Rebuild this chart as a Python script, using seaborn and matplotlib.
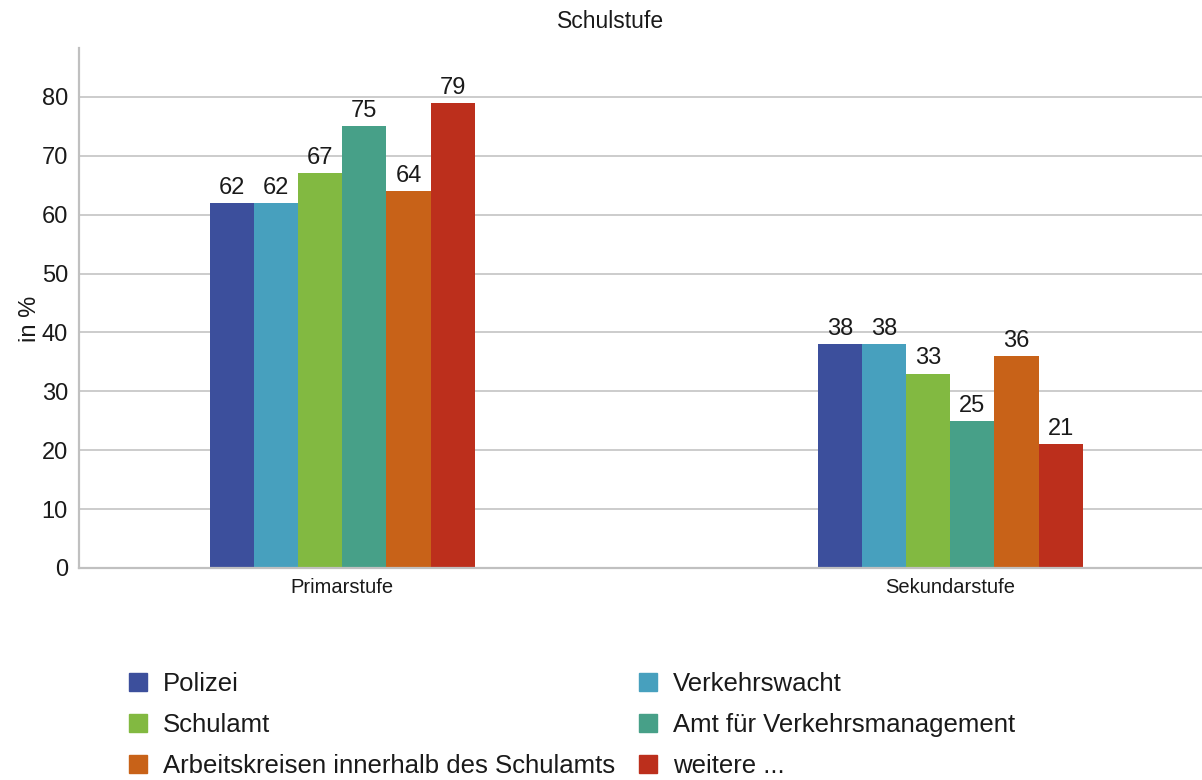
import pandas as pd
import numpy as np
import matplotlib
matplotlib.use('Agg')
import matplotlib.pyplot as plt
import seaborn as sns

# data
stufen = ['Primarstufe', 'Sekundarstufe']
akteure = ['Polizei', 'Verkehrswacht', 'Schulamt', 'Amt für Verkehrsmanagement',
           'Arbeitskreisen innerhalb des Schulamts', 'weitere ...']
primar = [62, 62, 67, 75, 64, 79]
sekundar = [38, 38, 33, 25, 36, 21]
farben = ['#3c4f9c', '#47a0be', '#82b941', '#47a088', '#c86218', '#bc2f1c']

df = pd.DataFrame({
    'Stufe': [stufen[0]] * len(akteure) + [stufen[1]] * len(akteure),
    'Akteur': akteure + akteure,
    'Wert': primar + sekundar,
})

sns.set_style('white')
plt.rcParams['font.family'] = ['Liberation Sans', 'DejaVu Sans']

fig = plt.figure(figsize=(12.02, 7.8), dpi=100)
ax = fig.add_axes([79 / 1202, 1 - 568 / 780, 1 - 79 / 1202, (568 - 48) / 780])

sns.barplot(data=df, x='Stufe', y='Wert', hue='Akteur', hue_order=akteure,
            palette=farben, width=0.436, gap=0, saturation=1, ax=ax,
            linewidth=0, legend=False, errorbar=None)

for c in ax.containers:
    ax.bar_label(c, fmt='%d', padding=3, fontsize=17, color='#1a1a1a')

ax.set_xlim(-0.433, 1.414)
ax.set_ylim(0, 88.3)
ax.set_yticks(range(0, 90, 10))
ax.yaxis.grid(True, color='#c8c8c8', linewidth=1.3)
ax.set_axisbelow(True)
for s in ['top', 'right']:
    ax.spines[s].set_visible(False)
for s in ['left', 'bottom']:
    ax.spines[s].set_color('#c0c0c0')
    ax.spines[s].set_linewidth(1.6)
ax.tick_params(axis='y', labelsize=17, length=7, color='#c0c0c0', width=1.3,
               pad=1, labelcolor='#1a1a1a')
ax.tick_params(axis='x', labelsize=14.5, length=0, pad=7, labelcolor='#1a1a1a')
ax.set_xlabel('')
ax.set_ylabel('in %', fontsize=17, labelpad=0, color='#1a1a1a')
ax.yaxis.set_label_coords(-0.034, 0.48)

fig.text(0.508, 0.973, 'Schulstufe', ha='center', va='center', fontsize=16.5,
         color='#1a1a1a')

# legend, row-wise order
handles = [plt.Rectangle((0, 0), 1, 1, color=f) for f in farben]
order = [0, 2, 4, 1, 3, 5]
fig.legend([handles[i] for i in order], [akteure[i] for i in order],
           ncol=2, loc='upper left', bbox_to_anchor=(0.107, 0.138),
           frameon=False, fontsize=18.5, handlelength=0.7, handleheight=0.7,
           handletextpad=0.65, columnspacing=0.9, labelspacing=0.66,
           borderaxespad=0, borderpad=0, labelcolor='#1a1a1a')

fig.savefig('out.png', dpi=100)
